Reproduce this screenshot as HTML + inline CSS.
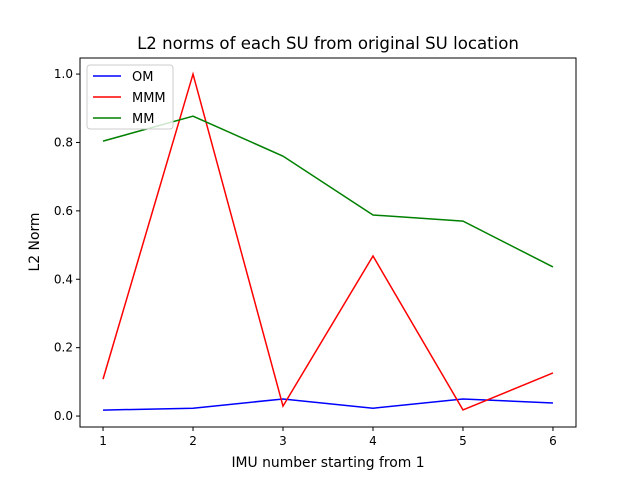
<!DOCTYPE html>
<html><head><meta charset="utf-8"><style>
body{margin:0;background:#fff}
svg{display:block;font-family:"DejaVu Sans","Liberation Sans",sans-serif}
</style></head><body>
<svg id="chart" width="640" height="480">
<rect width="640" height="480" fill="#fff"/>
<text x="328" y="49" text-anchor="middle" font-size="16.6">L2 norms of each SU from original SU location</text>
<g id="plot"></g>
<rect x="80" y="58" width="496" height="369" fill="none" stroke="#000" stroke-width="1"/>
<text x="328" y="467" text-anchor="middle" font-size="13.9">IMU number starting from 1</text>
<text x="0" y="0" transform="translate(39,242) rotate(-90)" text-anchor="middle" font-size="13.9">L2 Norm</text>
<g>
<rect x="87" y="65" width="86" height="64" fill="#fff" fill-opacity="0.8" stroke="#ccc" rx="3"/>
<line x1="93" y1="76" x2="121" y2="76" stroke="blue" stroke-width="1.5"/>
<text x="132" y="81" font-size="13">OM</text>
<line x1="93" y1="97" x2="121" y2="97" stroke="red" stroke-width="1.5"/>
<text x="132" y="102" font-size="13">MMM</text>
<line x1="93" y1="118" x2="121" y2="118" stroke="green" stroke-width="1.5"/>
<text x="132" y="123" font-size="13">MM</text>
</g>
</svg>
<script>
const categories=[1,2,3,4,5,6];
const omValues=[0.0175,0.023,0.05,0.023,0.05,0.038];
const mmmValues=[0.108,1.0,0.029,0.468,0.018,0.126];
const mmValues=[0.804,0.877,0.76,0.588,0.57,0.436];
const yTicks=[0.0,0.2,0.4,0.6,0.8,1.0];
const NS="http://www.w3.org/2000/svg";
const L=80,R=576,T=58,B=427,xmin=0.744,xmax=6.256,ymin=-0.032,ymax=1.047;
const xs=v=>L+(v-xmin)/(xmax-xmin)*(R-L);
const ys=v=>B-(v-ymin)/(ymax-ymin)*(B-T);
const g=document.getElementById('plot');
function mk(t,a){const e=document.createElementNS(NS,t);for(const k in a)e.setAttribute(k,a[k]);g.appendChild(e);return e;}
categories.forEach(c=>{
 const l=mk('line',{x1:xs(c),x2:xs(c),y1:B,y2:B+4,stroke:'#000'});
 
 
 const t=mk('text',{x:xs(c),y:B+18,'text-anchor':'middle','font-size':12});
 t.textContent=c;
 
 
});
yTicks.forEach(v=>{
 const l=mk('line',{x1:L-4,x2:L,y1:ys(v),y2:ys(v),stroke:'#000'});
 
 
 const t=mk('text',{x:L-7,y:ys(v)+4,'text-anchor':'end','font-size':12});
 t.textContent=v.toFixed(1);
 
 
});
[[omValues,'blue','om'],[mmmValues,'red','mmm'],[mmValues,'green','mm']].forEach(([vals,col,n])=>{
 const p=mk('polyline',{points:vals.map((v,i)=>xs(categories[i])+','+ys(v)).join(' '),fill:'none',stroke:col,'stroke-width':1.5});
 
 
});
</script>
</body></html>
